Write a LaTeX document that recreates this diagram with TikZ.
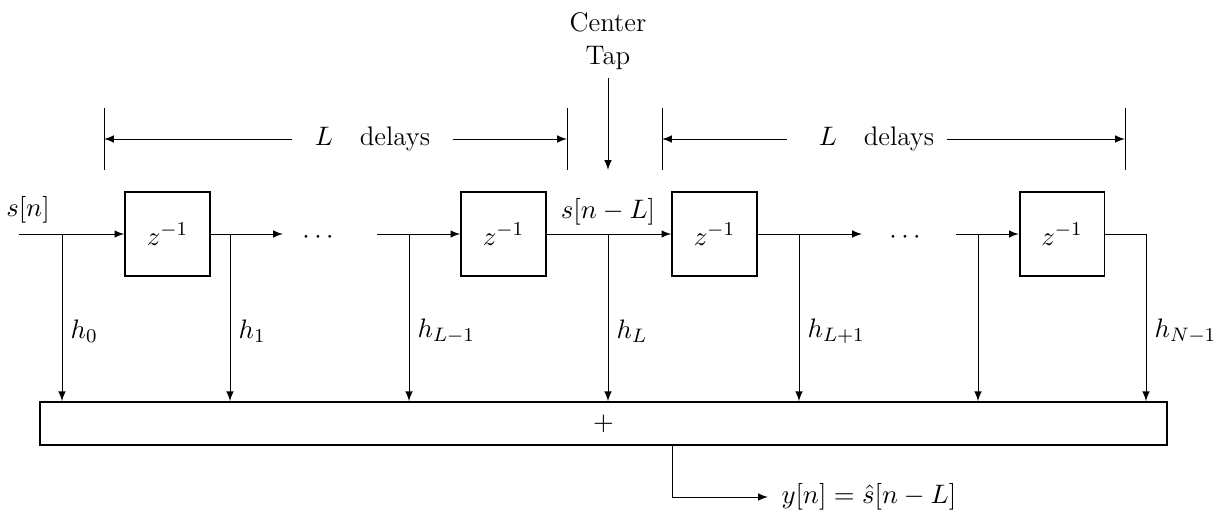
\documentclass[tikz,border=0pt]{standalone}
\usetikzlibrary{positioning}
\begin{document}
\begin{tikzpicture}[x=0.0144cm, y=-0.0144cm, >=latex,
  font=\fontsize{11}{13.5}\selectfont,
  retard/.style={draw, line width=0.7pt, minimum size=1.22cm, inner sep=0pt},
  somme/.style={draw, line width=0.6pt, minimum width=16.23cm, minimum height=0.62cm, inner sep=0pt},
  borne/.style={inner xsep=9pt}]
  \useasboundingbox (0,0) rectangle (1217,513);
  % Retards
  \node[retard] (d1) at (167.5,234) {$z^{-1}$};
  \node[retard] (d2) at (503.5,234) {$z^{-1}$};
  \node[retard] (d3) at (714.5,234) {$z^{-1}$};
  \node[retard] (d4) at (1062,234) {$z^{-1}$};
  \node[somme] (sum) at (603.5,423.5) {$+$};
  % Ligne de retard
  \coordinate (in) at (19,234);
  \coordinate (a1) at (283,234);
  \coordinate (b2) at (377,234);
  \coordinate (a3) at (862,234);
  \coordinate (b4) at (956,234);
  \node (sn) at (28,210) {$s[n]$};
  \node (snl) at (608,212) {$s[n-L]$};
  \node (dots1) at (318,238) {$\cdots$};
  \node (dots2) at (905,238) {$\cdots$};
  \draw[->] (in) -- (d1);
  \draw[->] (d1) -- (a1);
  \draw[->] (b2) -- (d2);
  \draw[->] (d2) -- (d3);
  \draw[->] (d3) -- (a3);
  \draw[->] (b4) -- (d4);
  % Prises
  \coordinate (t0) at (62,234);
  \coordinate (t1) at (230,234);
  \coordinate (t2) at (409,234);
  \coordinate (t3) at (608,234);
  \coordinate (t4) at (799,234);
  \coordinate (t5) at (978,234);
  \coordinate (t6) at (1146,234);
  \draw (d4) -- (t6);
  \foreach \t/\h in {t0/h_0, t1/h_1, t2/h_{L-1}, t3/h_L, t4/h_{L+1}, t5/{}, t6/h_{N-1}}
    \draw[->] (\t) -- (\t |- sum.north) node[pos=0.58, right] {$\h$};
  % Sortie
  \coordinate (o1) at (672,445);
  \coordinate (o2) at (768,497);
  \draw[->] (o1) |- (o2) node[right, xshift=2pt] {$y[n] = \hat{s}[n-L]$};
  % Bornes des retards
  \coordinate (k1) at (104,139);
  \coordinate (k2) at (567,139);
  \coordinate (k3) at (662,139);
  \coordinate (k4) at (1125,139);
  \foreach \k in {k1,k2,k3,k4}
    \draw (\k) ++(0,-31) -- ++(0,62);
  \node[borne] (lg) at (372.5,139) {$L$\quad delays};
  \node[borne, inner xsep=5pt] (ld) at (876.5,139) {$L$\quad delays};
  \draw[->] (lg) -- (k1);
  \draw[->] (lg) -- (k2);
  \draw[->, shorten <=8pt] (ld) -- (k3);
  \draw[->] (ld) -- (k4);
  % Prise centrale
  \node[align=center] (ct) at (608,41) {Center\\Tap};
  \coordinate (ctb) at (608,170);
  \draw[->] (ct) -- (ctb);
\end{tikzpicture}
\end{document}
